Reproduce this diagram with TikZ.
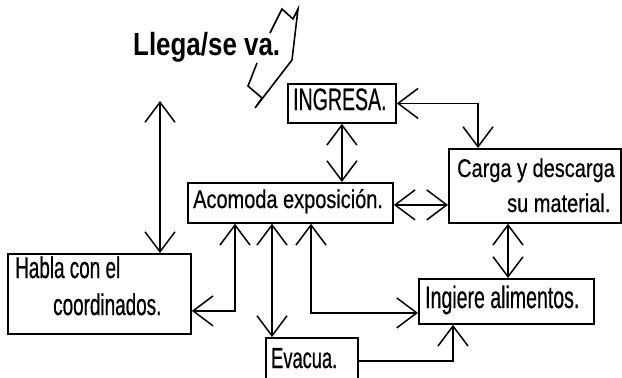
\documentclass[tikz,border=0pt]{standalone}
\usepackage{fontspec}
\setmainfont{Liberation Sans}
\newfontfamily\wideF[FakeStretch=0.78,FakeBold=0.5]{Liberation Sans}
\newfontfamily\narrowF[FakeStretch=0.63,FakeBold=0.5]{Liberation Sans}
\newfontfamily\titleF[FakeStretch=0.81]{Liberation Sans Bold}
\usetikzlibrary{arrows.meta,calc}
\begin{document}
\begin{tikzpicture}[x=1pt,y=-1pt,
  box/.style={draw,line width=1.8pt,rectangle,inner sep=0pt,anchor=north west},
  lbl/.style={inner sep=0pt,anchor=base west},
  wtxt/.style={lbl,font=\wideF\fontsize{25.6pt}{30pt}\selectfont},
  conn/.style={line width=1.5pt},
  >={Straight Barb[length=20pt,width=30pt]}]
\path[use as bounding box,fill=white] (0,0) rectangle (622,378);

% boxes
\node[box,minimum width=108pt,minimum height=39pt] (ingresa) at (287,83) {};
\node[box,minimum width=205pt,minimum height=40pt] (acomoda) at (187,182) {};
\node[box,minimum width=172pt,minimum height=74pt] (carga) at (448,148) {};
\node[box,minimum width=175pt,minimum height=45pt] (ingiere) at (418,278) {};
\node[box,minimum width=183pt,minimum height=80pt] (habla) at (7,253) {};
\node[box,minimum width=92pt,minimum height=46pt] (evacua) at (265,337) {};

% texts
\node[lbl,font=\titleF\fontsize{32pt}{36pt}\selectfont] (titulo) at (133,55) {Llega/se va.};
\node[lbl,font=\narrowF\fontsize{31pt}{36pt}\selectfont] (tingresa) at (293,110) {INGRESA.};
\node[wtxt] (tacomoda) at (193,208) {Acomoda exposición.};
\node[wtxt] (tcarga1) at (457,177) {Carga y descarga};
\node[wtxt] (tcarga2) at (507,212) {su material.};
\node[lbl,font=\narrowF\fontsize{31pt}{36pt}\selectfont] (tingiere) at (425,308) {Ingiere alimentos.};
\node[lbl,font=\narrowF\fontsize{30pt}{36pt}\selectfont] (thabla1) at (15,278) {Habla con el};
\node[lbl,font=\narrowF\fontsize{30pt}{36pt}\selectfont] (thabla2) at (53,315) {coordinados.};
\node[lbl,font=\narrowF\fontsize{29pt}{34pt}\selectfont] (tevacua) at (271,368) {Evacua.};

% lightning
\draw[line width=1.6pt,line join=miter] (257,63) -- (248,86) -- (262,98) -- (255,108)
  -- (292,60) -- (298,9) -- (293,19) -- (282,9) -- (270,33);

% helper coordinates
\coordinate (topend) at (160,101);
\coordinate (acB1) at ([xshift=48pt]acomoda.south west);
\coordinate (acB2) at ([xshift=85pt]acomoda.south west);
\coordinate (acB3) at ([xshift=124pt]acomoda.south west);
\coordinate (ingL) at ([yshift=-11.5pt]ingiere.west);
\coordinate (habR) at ([yshift=-17pt]habla.east);
\coordinate (cgTop) at ([xshift=30pt]carga.north west);
\coordinate (cgBot) at ([xshift=60pt]carga.south west);
\coordinate (ingBot) at ([xshift=35pt]ingiere.south west);
\coordinate (acR) at ([yshift=-2pt]acomoda.east);

% connectors
\draw[conn,<->] (topend) -- (habla.north -| topend);
\draw[conn,<->] (ingresa.south) -- (acomoda.north -| ingresa.south);
\draw[conn,<->] (ingresa.east) -| (cgTop);
\draw[conn,<->] (acR) -- (acR -| carga.west);
\draw[conn,<->] (cgBot) -- (cgBot |- ingiere.north);
\draw[conn,<->] (acB1) |- (habR);
\draw[conn,<->] (acB2) -- (acB2 |- evacua.north);
\draw[conn,<->] (acB3) |- (ingL);
\draw[conn,->] (evacua.east) -| (ingBot);
\end{tikzpicture}
\end{document}
